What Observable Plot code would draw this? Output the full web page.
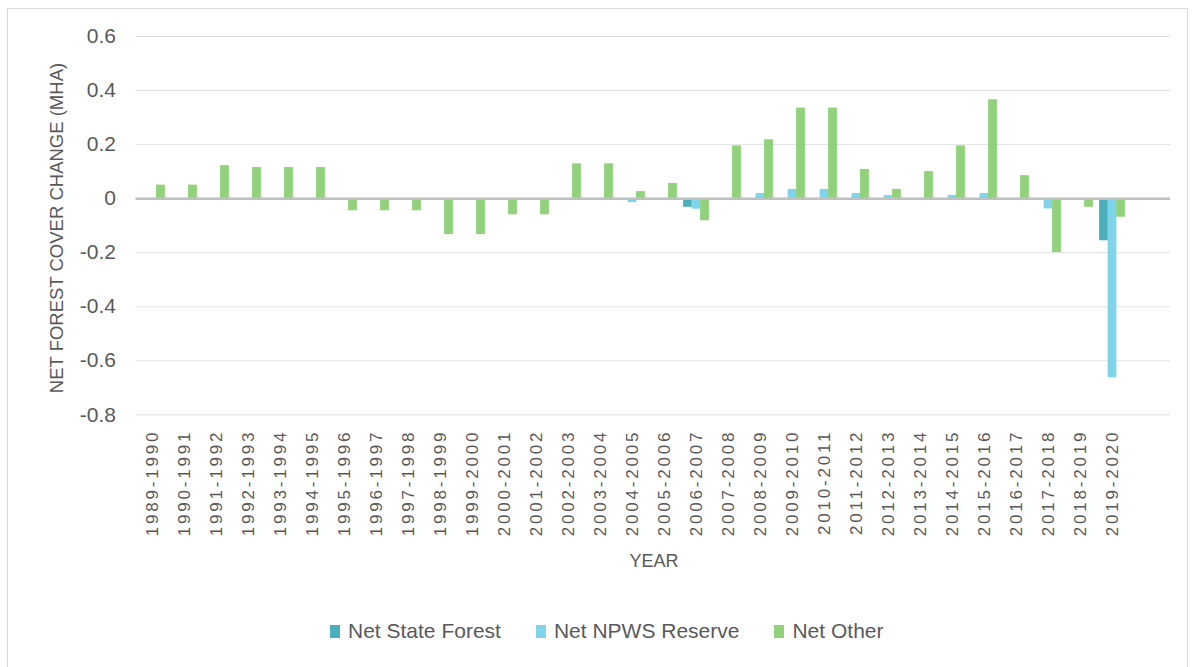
<!DOCTYPE html>
<html>
<head>
<meta charset="utf-8">
<script src="https://cdn.jsdelivr.net/npm/d3@7"></script>
<script src="https://cdn.jsdelivr.net/npm/@observablehq/plot@0.6"></script>
<style>
  body { margin: 0; background: #ffffff; }
  #wrap { position: relative; width: 1194px; height: 667px; overflow: hidden;
          font-family: "Liberation Sans", Arial, sans-serif; color: #595959; background: #fff; }
  #frame { position: absolute; left: 7px; top: 8px; width: 1181px; height: 700px;
           border: 1px solid #d9d9d9; box-sizing: border-box; }
  #chart { position: absolute; left: 0; top: 0; }
  #chart svg { overflow: visible; }
  #chart g[aria-label="x-axis tick label"] text { letter-spacing: 2.8px; }
  #ytitle { position: absolute; left: 57px; top: 228px; white-space: nowrap; font-size: 18.5px;
            transform: translate(-50%, -50%) rotate(-90deg); }
  #xtitle { position: absolute; left: 654px; top: 561px; font-size: 18px;
            transform: translate(-50%, -50%); white-space: nowrap; }
  #legend { position: absolute; left: 330px; top: 631px; transform: translateY(-50%);
            display: flex; align-items: center; font-size: 21px; white-space: nowrap; }
  .item { display: flex; align-items: center; margin-right: 35px; }
  .sw { width: 10px; height: 13px; margin-right: 8px; }
</style>
</head>
<body>
<div id="wrap">
  <div id="frame"></div>
  <div id="chart"></div>
  <div id="ytitle"></div>
  <div id="xtitle"></div>
  <div id="legend"></div>
</div>
<script>
const years = ["1989-1990","1990-1991","1991-1992","1992-1993","1993-1994","1994-1995",
  "1995-1996","1996-1997","1997-1998","1998-1999","1999-2000","2000-2001","2001-2002",
  "2002-2003","2003-2004","2004-2005","2005-2006","2006-2007","2007-2008","2008-2009",
  "2009-2010","2010-2011","2011-2012","2012-2013","2013-2014","2014-2015","2015-2016",
  "2016-2017","2017-2018","2018-2019","2019-2020"];

const netStateForest = [0,0,0,0,0,0, 0,0,0,0,0,0,0, 0,0,0,0,-0.032,0,0, 0,0,0,0,0,0,0, 0,0,0,-0.156];
const netNpwsReserve = [0,0,0,0,0,0, 0,0,0,0,0,0,0, 0,0,-0.015,0,-0.039,0,0.019, 0.034,0.034,0.019,0.011,0,0.012,0.019, 0,-0.038,0,-0.663];
const netOther = [0.05,0.05,0.122,0.115,0.115,0.115, -0.045,-0.045,-0.045,-0.133,-0.133,-0.06,-0.06,
  0.129,0.129,0.026,0.056,-0.082,0.195,0.218, 0.335,0.335,0.108,0.034,0.10,0.195,0.366,
  0.085,-0.2,-0.032,-0.069];

const seriesNames = ["Net State Forest", "Net NPWS Reserve", "Net Other"];
const seriesColors = ["#4aafba", "#7fd4ea", "#92d17c"];
const yTicks = [-0.8, -0.6, -0.4, -0.2, 0, 0.2, 0.4, 0.6];
const yTickLabels = ["-0.8", "-0.6", "-0.4", "-0.2", "0", "0.2", "0.4", "0.6"];
const yTitle = "NET FOREST COVER CHANGE (MHA)";
const xTitle = "YEAR";

const seriesValues = [netStateForest, netNpwsReserve, netOther];
const seriesOffsets = [-8.5, 0, 8.5];

const H = 545;
const barMarks = seriesNames.map((name, j) =>
  Plot.barY(years.map((yr, i) => ({year: yr, series: name, value: seriesValues[j][i]})), {
    x: "year", y: "value", fill: seriesColors[j],
    insetLeft: 11.6, insetRight: 11.6, dx: seriesOffsets[j]
  })
);

const chart = Plot.plot({
  width: 1194,
  height: H,
  marginLeft: 135.5,
  marginRight: 24,
  marginTop: 36,
  marginBottom: H - 414.3,
  style: { fontFamily: '"Liberation Sans", Arial, sans-serif', color: "#595959", background: "transparent" },
  x: { domain: years, paddingInner: 0, paddingOuter: 0.5, align: 0 },
  y: { domain: [-0.8, 0.6] },
  marks: [
    Plot.ruleY(yTicks, { stroke: "#e2e2e2", strokeWidth: 1 }),
    ...barMarks,
    Plot.ruleY([0], { stroke: "#bfbfbf", strokeWidth: 2.5 }),
    Plot.axisY({ ticks: yTicks, tickSize: 0, tickPadding: 20, fontSize: 21, label: null,
      tickFormat: d => yTickLabels[yTicks.indexOf(d)] }),
    Plot.axisX({ tickSize: 0, tickPadding: 15, tickRotate: -90, fontSize: 17, label: null })
  ]
});
document.getElementById("chart").appendChild(chart);
document.getElementById("ytitle").textContent = yTitle;
document.getElementById("xtitle").textContent = xTitle;

const legend = document.getElementById("legend");
seriesNames.forEach((name, j) => {
  const it = document.createElement("div");
  it.className = "item";
  const sw = document.createElement("div");
  sw.className = "sw";
  sw.style.background = seriesColors[j];
  const tx = document.createElement("span");
  tx.textContent = name;
  it.appendChild(sw); it.appendChild(tx);
  legend.appendChild(it);
});
</script>
</body>
</html>
